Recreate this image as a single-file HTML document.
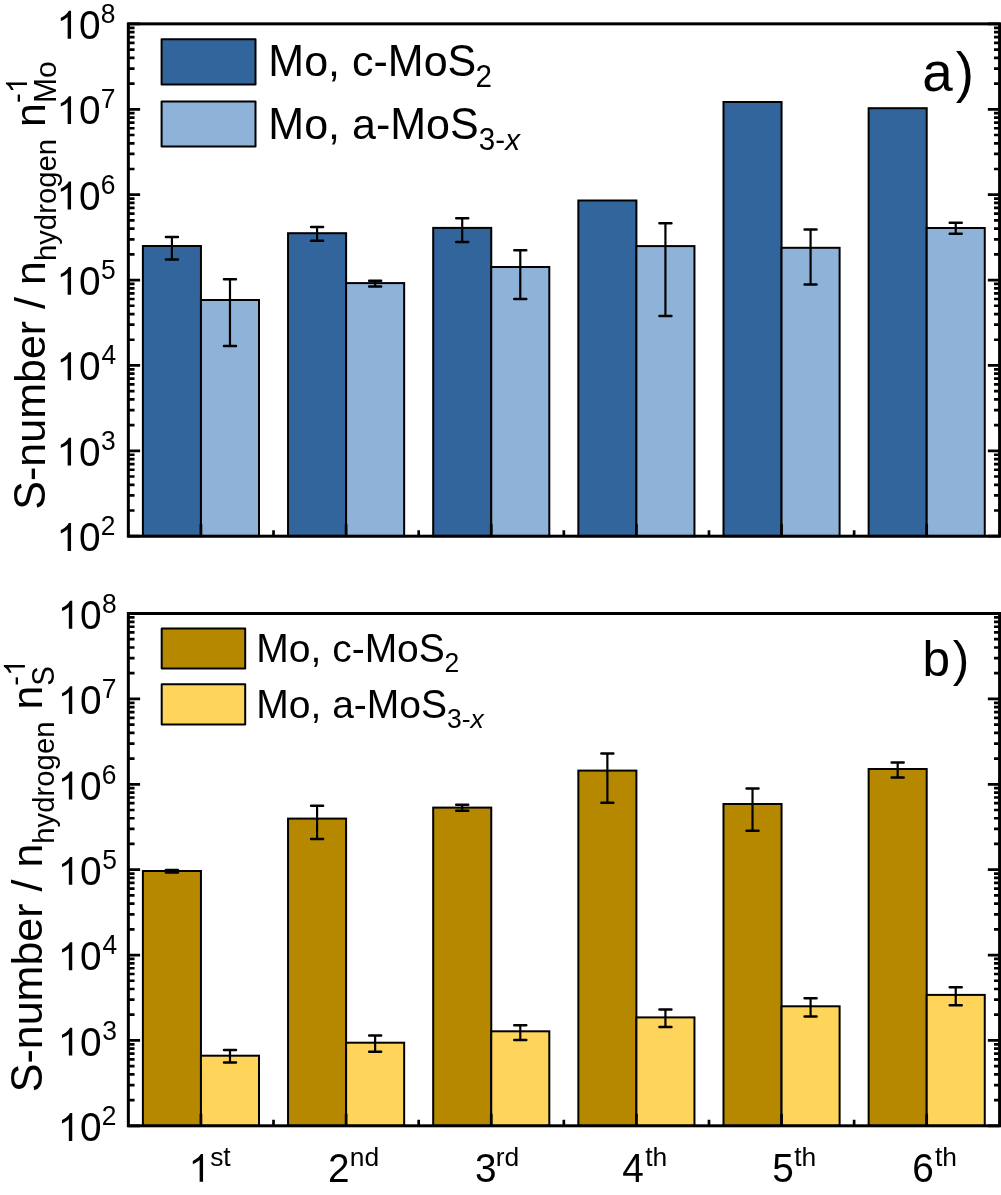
<!DOCTYPE html><html><head><meta charset="utf-8"><style>html,body{margin:0;padding:0;background:#fff;width:1001px;height:1195px;overflow:hidden}svg{display:block;will-change:transform}</style></head><body>
<svg width="1001" height="1195" viewBox="0 0 1001 1195">
<rect width="1001" height="1195" fill="#fff"/>
<rect x="142.89" y="246.00" width="58.06" height="290.20" fill="#32659b" stroke="#000" stroke-width="2"/>
<rect x="200.95" y="300.00" width="58.06" height="236.20" fill="#8fb3d8" stroke="#000" stroke-width="2"/>
<rect x="288.04" y="233.20" width="58.06" height="303.00" fill="#32659b" stroke="#000" stroke-width="2"/>
<rect x="346.10" y="283.10" width="58.06" height="253.10" fill="#8fb3d8" stroke="#000" stroke-width="2"/>
<rect x="433.19" y="227.90" width="58.06" height="308.30" fill="#32659b" stroke="#000" stroke-width="2"/>
<rect x="491.25" y="267.00" width="58.06" height="269.20" fill="#8fb3d8" stroke="#000" stroke-width="2"/>
<rect x="578.34" y="200.50" width="58.06" height="335.70" fill="#32659b" stroke="#000" stroke-width="2"/>
<rect x="636.40" y="246.10" width="58.06" height="290.10" fill="#8fb3d8" stroke="#000" stroke-width="2"/>
<rect x="723.49" y="102.00" width="58.06" height="434.20" fill="#32659b" stroke="#000" stroke-width="2"/>
<rect x="781.55" y="247.80" width="58.06" height="288.40" fill="#8fb3d8" stroke="#000" stroke-width="2"/>
<rect x="868.64" y="108.20" width="58.06" height="428.00" fill="#32659b" stroke="#000" stroke-width="2"/>
<rect x="926.70" y="228.00" width="58.06" height="308.20" fill="#8fb3d8" stroke="#000" stroke-width="2"/>
<path d="M171.92 236.90V259.50" stroke="#000" stroke-width="2.2" fill="none"/>
<path d="M165.92 236.90H177.92M165.92 259.50H177.92" stroke="#000" stroke-width="2.5" stroke-linecap="round" fill="none"/>
<path d="M229.98 279.30V346.10" stroke="#000" stroke-width="2.2" fill="none"/>
<path d="M223.98 279.30H235.98M223.98 346.10H235.98" stroke="#000" stroke-width="2.5" stroke-linecap="round" fill="none"/>
<path d="M317.07 227.10V240.70" stroke="#000" stroke-width="2.2" fill="none"/>
<path d="M311.07 227.10H323.07M311.07 240.70H323.07" stroke="#000" stroke-width="2.5" stroke-linecap="round" fill="none"/>
<path d="M375.13 280.80V286.60" stroke="#000" stroke-width="2.2" fill="none"/>
<path d="M369.13 280.80H381.13M369.13 286.60H381.13" stroke="#000" stroke-width="2.5" stroke-linecap="round" fill="none"/>
<path d="M462.22 218.20V242.10" stroke="#000" stroke-width="2.2" fill="none"/>
<path d="M456.22 218.20H468.22M456.22 242.10H468.22" stroke="#000" stroke-width="2.5" stroke-linecap="round" fill="none"/>
<path d="M520.28 250.20V299.10" stroke="#000" stroke-width="2.2" fill="none"/>
<path d="M514.28 250.20H526.28M514.28 299.10H526.28" stroke="#000" stroke-width="2.5" stroke-linecap="round" fill="none"/>
<path d="M665.43 223.20V315.90" stroke="#000" stroke-width="2.2" fill="none"/>
<path d="M659.43 223.20H671.43M659.43 315.90H671.43" stroke="#000" stroke-width="2.5" stroke-linecap="round" fill="none"/>
<path d="M810.58 229.40V284.60" stroke="#000" stroke-width="2.2" fill="none"/>
<path d="M804.58 229.40H816.58M804.58 284.60H816.58" stroke="#000" stroke-width="2.5" stroke-linecap="round" fill="none"/>
<path d="M955.73 222.70V233.70" stroke="#000" stroke-width="2.2" fill="none"/>
<path d="M949.73 222.70H961.73M949.73 233.70H961.73" stroke="#000" stroke-width="2.5" stroke-linecap="round" fill="none"/>
<path d="M128.35 536.20H140.10M999.60 536.20H987.85M128.35 510.50H134.55M999.60 510.50H994.00M128.35 495.46H134.55M999.60 495.46H994.00M128.35 484.80H134.55M999.60 484.80H994.00M128.35 476.52H134.55M999.60 476.52H994.00M128.35 469.76H134.55M999.60 469.76H994.00M128.35 464.05H134.55M999.60 464.05H994.00M128.35 459.09H134.55M999.60 459.09H994.00M128.35 454.73H134.55M999.60 454.73H994.00M128.35 450.82H140.10M999.60 450.82H987.85M128.35 425.12H134.55M999.60 425.12H994.00M128.35 410.08H134.55M999.60 410.08H994.00M128.35 399.42H134.55M999.60 399.42H994.00M128.35 391.14H134.55M999.60 391.14H994.00M128.35 384.38H134.55M999.60 384.38H994.00M128.35 378.67H134.55M999.60 378.67H994.00M128.35 373.71H134.55M999.60 373.71H994.00M128.35 369.35H134.55M999.60 369.35H994.00M128.35 365.44H140.10M999.60 365.44H987.85M128.35 339.74H134.55M999.60 339.74H994.00M128.35 324.70H134.55M999.60 324.70H994.00M128.35 314.04H134.55M999.60 314.04H994.00M128.35 305.76H134.55M999.60 305.76H994.00M128.35 299.00H134.55M999.60 299.00H994.00M128.35 293.29H134.55M999.60 293.29H994.00M128.35 288.33H134.55M999.60 288.33H994.00M128.35 283.97H134.55M999.60 283.97H994.00M128.35 280.06H140.10M999.60 280.06H987.85M128.35 254.36H134.55M999.60 254.36H994.00M128.35 239.32H134.55M999.60 239.32H994.00M128.35 228.66H134.55M999.60 228.66H994.00M128.35 220.38H134.55M999.60 220.38H994.00M128.35 213.62H134.55M999.60 213.62H994.00M128.35 207.91H134.55M999.60 207.91H994.00M128.35 202.95H134.55M999.60 202.95H994.00M128.35 198.59H134.55M999.60 198.59H994.00M128.35 194.68H140.10M999.60 194.68H987.85M128.35 168.98H134.55M999.60 168.98H994.00M128.35 153.94H134.55M999.60 153.94H994.00M128.35 143.28H134.55M999.60 143.28H994.00M128.35 135.00H134.55M999.60 135.00H994.00M128.35 128.24H134.55M999.60 128.24H994.00M128.35 122.53H134.55M999.60 122.53H994.00M128.35 117.57H134.55M999.60 117.57H994.00M128.35 113.21H134.55M999.60 113.21H994.00M128.35 109.30H140.10M999.60 109.30H987.85M128.35 83.60H134.55M999.60 83.60H994.00M128.35 68.56H134.55M999.60 68.56H994.00M128.35 57.90H134.55M999.60 57.90H994.00M128.35 49.62H134.55M999.60 49.62H994.00M128.35 42.86H134.55M999.60 42.86H994.00M128.35 37.15H134.55M999.60 37.15H994.00M128.35 32.19H134.55M999.60 32.19H994.00M128.35 27.83H134.55M999.60 27.83H994.00M128.35 23.85H140.10M999.60 23.85H987.85" stroke="#000" stroke-width="2.7" fill="none"/>
<path d="M200.95 536.20V524.20M273.52 536.20V530.20M346.10 536.20V524.20M418.68 536.20V530.20M491.25 536.20V524.20M563.83 536.20V530.20M636.40 536.20V524.20M708.98 536.20V530.20M781.55 536.20V524.20M854.12 536.20V530.20M926.70 536.20V524.20" stroke="#000" stroke-width="2.7" fill="none"/>
<rect x="128.35" y="23.85" width="871.25" height="512.35" fill="none" stroke="#000" stroke-width="3"/>
<path d="M763 0H583V1147Q518 1085 465 1054Q412 1023 359 992Q306 961 222 930V1104Q373 1175 429.5 1225.5Q486 1276 542.5 1326.5Q599 1377 646 1472H763Z" transform="translate(56.59,551.00) scale(0.01895,-0.01895)" fill="#000"/>
<text font-family="Liberation Sans" font-size="38.8" transform="translate(78.88,551.20) scale(1,1.04)" xml:space="preserve">0</text>
<text font-family="Liberation Sans" font-size="26.4" transform="translate(100.67,535.20) scale(1,1.04)" xml:space="preserve">2</text>
<path d="M763 0H583V1147Q518 1085 465 1054Q412 1023 359 992Q306 961 222 930V1104Q373 1175 429.5 1225.5Q486 1276 542.5 1326.5Q599 1377 646 1472H763Z" transform="translate(56.59,465.62) scale(0.01895,-0.01895)" fill="#000"/>
<text font-family="Liberation Sans" font-size="38.8" transform="translate(78.88,465.82) scale(1,1.04)" xml:space="preserve">0</text>
<text font-family="Liberation Sans" font-size="26.4" transform="translate(100.99,449.82) scale(1,1.04)" xml:space="preserve">3</text>
<path d="M763 0H583V1147Q518 1085 465 1054Q412 1023 359 992Q306 961 222 930V1104Q373 1175 429.5 1225.5Q486 1276 542.5 1326.5Q599 1377 646 1472H763Z" transform="translate(56.59,380.24) scale(0.01895,-0.01895)" fill="#000"/>
<text font-family="Liberation Sans" font-size="38.8" transform="translate(78.88,380.44) scale(1,1.04)" xml:space="preserve">0</text>
<text font-family="Liberation Sans" font-size="26.4" transform="translate(101.39,364.44) scale(1,1.04)" xml:space="preserve">4</text>
<path d="M763 0H583V1147Q518 1085 465 1054Q412 1023 359 992Q306 961 222 930V1104Q373 1175 429.5 1225.5Q486 1276 542.5 1326.5Q599 1377 646 1472H763Z" transform="translate(56.59,294.86) scale(0.01895,-0.01895)" fill="#000"/>
<text font-family="Liberation Sans" font-size="38.8" transform="translate(78.88,295.06) scale(1,1.04)" xml:space="preserve">0</text>
<text font-family="Liberation Sans" font-size="26.4" transform="translate(100.94,279.06) scale(1,1.04)" xml:space="preserve">5</text>
<path d="M763 0H583V1147Q518 1085 465 1054Q412 1023 359 992Q306 961 222 930V1104Q373 1175 429.5 1225.5Q486 1276 542.5 1326.5Q599 1377 646 1472H763Z" transform="translate(56.59,209.48) scale(0.01895,-0.01895)" fill="#000"/>
<text font-family="Liberation Sans" font-size="38.8" transform="translate(78.88,209.68) scale(1,1.04)" xml:space="preserve">0</text>
<text font-family="Liberation Sans" font-size="26.4" transform="translate(100.66,193.68) scale(1,1.04)" xml:space="preserve">6</text>
<path d="M763 0H583V1147Q518 1085 465 1054Q412 1023 359 992Q306 961 222 930V1104Q373 1175 429.5 1225.5Q486 1276 542.5 1326.5Q599 1377 646 1472H763Z" transform="translate(56.59,124.10) scale(0.01895,-0.01895)" fill="#000"/>
<text font-family="Liberation Sans" font-size="38.8" transform="translate(78.88,124.30) scale(1,1.04)" xml:space="preserve">0</text>
<text font-family="Liberation Sans" font-size="26.4" transform="translate(100.65,108.30) scale(1,1.04)" xml:space="preserve">7</text>
<path d="M763 0H583V1147Q518 1085 465 1054Q412 1023 359 992Q306 961 222 930V1104Q373 1175 429.5 1225.5Q486 1276 542.5 1326.5Q599 1377 646 1472H763Z" transform="translate(56.59,38.72) scale(0.01895,-0.01895)" fill="#000"/>
<text font-family="Liberation Sans" font-size="38.8" transform="translate(78.88,38.92) scale(1,1.04)" xml:space="preserve">0</text>
<text font-family="Liberation Sans" font-size="26.4" transform="translate(100.85,22.92) scale(1,1.04)" xml:space="preserve">8</text>
<rect x="142.89" y="871.00" width="58.06" height="254.80" fill="#b58800" stroke="#000" stroke-width="2"/>
<rect x="200.95" y="1055.70" width="58.06" height="70.10" fill="#ffd45b" stroke="#000" stroke-width="2"/>
<rect x="288.04" y="818.60" width="58.06" height="307.20" fill="#b58800" stroke="#000" stroke-width="2"/>
<rect x="346.10" y="1042.70" width="58.06" height="83.10" fill="#ffd45b" stroke="#000" stroke-width="2"/>
<rect x="433.19" y="807.60" width="58.06" height="318.20" fill="#b58800" stroke="#000" stroke-width="2"/>
<rect x="491.25" y="1031.30" width="58.06" height="94.50" fill="#ffd45b" stroke="#000" stroke-width="2"/>
<rect x="578.34" y="770.60" width="58.06" height="355.20" fill="#b58800" stroke="#000" stroke-width="2"/>
<rect x="636.40" y="1017.40" width="58.06" height="108.40" fill="#ffd45b" stroke="#000" stroke-width="2"/>
<rect x="723.49" y="804.00" width="58.06" height="321.80" fill="#b58800" stroke="#000" stroke-width="2"/>
<rect x="781.55" y="1006.30" width="58.06" height="119.50" fill="#ffd45b" stroke="#000" stroke-width="2"/>
<rect x="868.64" y="769.00" width="58.06" height="356.80" fill="#b58800" stroke="#000" stroke-width="2"/>
<rect x="926.70" y="994.90" width="58.06" height="130.90" fill="#ffd45b" stroke="#000" stroke-width="2"/>
<path d="M171.92 869.90V872.60" stroke="#000" stroke-width="2.2" fill="none"/>
<path d="M165.92 869.90H177.92M165.92 872.60H177.92" stroke="#000" stroke-width="2.5" stroke-linecap="round" fill="none"/>
<path d="M229.98 1049.90V1062.40" stroke="#000" stroke-width="2.2" fill="none"/>
<path d="M223.98 1049.90H235.98M223.98 1062.40H235.98" stroke="#000" stroke-width="2.5" stroke-linecap="round" fill="none"/>
<path d="M317.07 805.80V839.00" stroke="#000" stroke-width="2.2" fill="none"/>
<path d="M311.07 805.80H323.07M311.07 839.00H323.07" stroke="#000" stroke-width="2.5" stroke-linecap="round" fill="none"/>
<path d="M375.13 1035.50V1051.70" stroke="#000" stroke-width="2.2" fill="none"/>
<path d="M369.13 1035.50H381.13M369.13 1051.70H381.13" stroke="#000" stroke-width="2.5" stroke-linecap="round" fill="none"/>
<path d="M462.22 804.70V810.70" stroke="#000" stroke-width="2.2" fill="none"/>
<path d="M456.22 804.70H468.22M456.22 810.70H468.22" stroke="#000" stroke-width="2.5" stroke-linecap="round" fill="none"/>
<path d="M520.28 1025.20V1039.90" stroke="#000" stroke-width="2.2" fill="none"/>
<path d="M514.28 1025.20H526.28M514.28 1039.90H526.28" stroke="#000" stroke-width="2.5" stroke-linecap="round" fill="none"/>
<path d="M607.37 753.50V802.70" stroke="#000" stroke-width="2.2" fill="none"/>
<path d="M601.37 753.50H613.37M601.37 802.70H613.37" stroke="#000" stroke-width="2.5" stroke-linecap="round" fill="none"/>
<path d="M665.43 1009.60V1027.10" stroke="#000" stroke-width="2.2" fill="none"/>
<path d="M659.43 1009.60H671.43M659.43 1027.10H671.43" stroke="#000" stroke-width="2.5" stroke-linecap="round" fill="none"/>
<path d="M752.52 788.40V830.70" stroke="#000" stroke-width="2.2" fill="none"/>
<path d="M746.52 788.40H758.52M746.52 830.70H758.52" stroke="#000" stroke-width="2.5" stroke-linecap="round" fill="none"/>
<path d="M810.58 998.20V1016.40" stroke="#000" stroke-width="2.2" fill="none"/>
<path d="M804.58 998.20H816.58M804.58 1016.40H816.58" stroke="#000" stroke-width="2.5" stroke-linecap="round" fill="none"/>
<path d="M897.67 762.50V777.50" stroke="#000" stroke-width="2.2" fill="none"/>
<path d="M891.67 762.50H903.67M891.67 777.50H903.67" stroke="#000" stroke-width="2.5" stroke-linecap="round" fill="none"/>
<path d="M955.73 987.30V1005.30" stroke="#000" stroke-width="2.2" fill="none"/>
<path d="M949.73 987.30H961.73M949.73 1005.30H961.73" stroke="#000" stroke-width="2.5" stroke-linecap="round" fill="none"/>
<path d="M128.35 1125.80H140.10M999.60 1125.80H987.85M128.35 1100.10H134.55M999.60 1100.10H994.00M128.35 1085.06H134.55M999.60 1085.06H994.00M128.35 1074.40H134.55M999.60 1074.40H994.00M128.35 1066.12H134.55M999.60 1066.12H994.00M128.35 1059.36H134.55M999.60 1059.36H994.00M128.35 1053.65H134.55M999.60 1053.65H994.00M128.35 1048.69H134.55M999.60 1048.69H994.00M128.35 1044.33H134.55M999.60 1044.33H994.00M128.35 1040.42H140.10M999.60 1040.42H987.85M128.35 1014.72H134.55M999.60 1014.72H994.00M128.35 999.68H134.55M999.60 999.68H994.00M128.35 989.02H134.55M999.60 989.02H994.00M128.35 980.74H134.55M999.60 980.74H994.00M128.35 973.98H134.55M999.60 973.98H994.00M128.35 968.27H134.55M999.60 968.27H994.00M128.35 963.31H134.55M999.60 963.31H994.00M128.35 958.95H134.55M999.60 958.95H994.00M128.35 955.04H140.10M999.60 955.04H987.85M128.35 929.34H134.55M999.60 929.34H994.00M128.35 914.30H134.55M999.60 914.30H994.00M128.35 903.64H134.55M999.60 903.64H994.00M128.35 895.36H134.55M999.60 895.36H994.00M128.35 888.60H134.55M999.60 888.60H994.00M128.35 882.89H134.55M999.60 882.89H994.00M128.35 877.93H134.55M999.60 877.93H994.00M128.35 873.57H134.55M999.60 873.57H994.00M128.35 869.66H140.10M999.60 869.66H987.85M128.35 843.96H134.55M999.60 843.96H994.00M128.35 828.92H134.55M999.60 828.92H994.00M128.35 818.26H134.55M999.60 818.26H994.00M128.35 809.98H134.55M999.60 809.98H994.00M128.35 803.22H134.55M999.60 803.22H994.00M128.35 797.51H134.55M999.60 797.51H994.00M128.35 792.55H134.55M999.60 792.55H994.00M128.35 788.19H134.55M999.60 788.19H994.00M128.35 784.28H140.10M999.60 784.28H987.85M128.35 758.58H134.55M999.60 758.58H994.00M128.35 743.54H134.55M999.60 743.54H994.00M128.35 732.88H134.55M999.60 732.88H994.00M128.35 724.60H134.55M999.60 724.60H994.00M128.35 717.84H134.55M999.60 717.84H994.00M128.35 712.13H134.55M999.60 712.13H994.00M128.35 707.17H134.55M999.60 707.17H994.00M128.35 702.81H134.55M999.60 702.81H994.00M128.35 698.90H140.10M999.60 698.90H987.85M128.35 673.20H134.55M999.60 673.20H994.00M128.35 658.16H134.55M999.60 658.16H994.00M128.35 647.50H134.55M999.60 647.50H994.00M128.35 639.22H134.55M999.60 639.22H994.00M128.35 632.46H134.55M999.60 632.46H994.00M128.35 626.75H134.55M999.60 626.75H994.00M128.35 621.79H134.55M999.60 621.79H994.00M128.35 617.43H134.55M999.60 617.43H994.00M128.35 613.50H140.10M999.60 613.50H987.85" stroke="#000" stroke-width="2.7" fill="none"/>
<path d="M200.95 1125.80V1113.80M273.52 1125.80V1119.80M346.10 1125.80V1113.80M418.68 1125.80V1119.80M491.25 1125.80V1113.80M563.83 1125.80V1119.80M636.40 1125.80V1113.80M708.98 1125.80V1119.80M781.55 1125.80V1113.80M854.12 1125.80V1119.80M926.70 1125.80V1113.80" stroke="#000" stroke-width="2.7" fill="none"/>
<rect x="128.35" y="613.50" width="871.25" height="512.30" fill="none" stroke="#000" stroke-width="3"/>
<path d="M763 0H583V1147Q518 1085 465 1054Q412 1023 359 992Q306 961 222 930V1104Q373 1175 429.5 1225.5Q486 1276 542.5 1326.5Q599 1377 646 1472H763Z" transform="translate(57.79,1141.00) scale(0.01895,-0.01895)" fill="#000"/>
<text font-family="Liberation Sans" font-size="38.8" transform="translate(80.08,1141.20) scale(1,1.04)" xml:space="preserve">0</text>
<text font-family="Liberation Sans" font-size="26.4" transform="translate(101.87,1125.20) scale(1,1.04)" xml:space="preserve">2</text>
<path d="M763 0H583V1147Q518 1085 465 1054Q412 1023 359 992Q306 961 222 930V1104Q373 1175 429.5 1225.5Q486 1276 542.5 1326.5Q599 1377 646 1472H763Z" transform="translate(57.79,1055.62) scale(0.01895,-0.01895)" fill="#000"/>
<text font-family="Liberation Sans" font-size="38.8" transform="translate(80.08,1055.82) scale(1,1.04)" xml:space="preserve">0</text>
<text font-family="Liberation Sans" font-size="26.4" transform="translate(102.19,1039.82) scale(1,1.04)" xml:space="preserve">3</text>
<path d="M763 0H583V1147Q518 1085 465 1054Q412 1023 359 992Q306 961 222 930V1104Q373 1175 429.5 1225.5Q486 1276 542.5 1326.5Q599 1377 646 1472H763Z" transform="translate(57.79,970.24) scale(0.01895,-0.01895)" fill="#000"/>
<text font-family="Liberation Sans" font-size="38.8" transform="translate(80.08,970.44) scale(1,1.04)" xml:space="preserve">0</text>
<text font-family="Liberation Sans" font-size="26.4" transform="translate(102.59,954.44) scale(1,1.04)" xml:space="preserve">4</text>
<path d="M763 0H583V1147Q518 1085 465 1054Q412 1023 359 992Q306 961 222 930V1104Q373 1175 429.5 1225.5Q486 1276 542.5 1326.5Q599 1377 646 1472H763Z" transform="translate(57.79,884.86) scale(0.01895,-0.01895)" fill="#000"/>
<text font-family="Liberation Sans" font-size="38.8" transform="translate(80.08,885.06) scale(1,1.04)" xml:space="preserve">0</text>
<text font-family="Liberation Sans" font-size="26.4" transform="translate(102.14,869.06) scale(1,1.04)" xml:space="preserve">5</text>
<path d="M763 0H583V1147Q518 1085 465 1054Q412 1023 359 992Q306 961 222 930V1104Q373 1175 429.5 1225.5Q486 1276 542.5 1326.5Q599 1377 646 1472H763Z" transform="translate(57.79,799.48) scale(0.01895,-0.01895)" fill="#000"/>
<text font-family="Liberation Sans" font-size="38.8" transform="translate(80.08,799.68) scale(1,1.04)" xml:space="preserve">0</text>
<text font-family="Liberation Sans" font-size="26.4" transform="translate(101.86,783.68) scale(1,1.04)" xml:space="preserve">6</text>
<path d="M763 0H583V1147Q518 1085 465 1054Q412 1023 359 992Q306 961 222 930V1104Q373 1175 429.5 1225.5Q486 1276 542.5 1326.5Q599 1377 646 1472H763Z" transform="translate(57.79,714.10) scale(0.01895,-0.01895)" fill="#000"/>
<text font-family="Liberation Sans" font-size="38.8" transform="translate(80.08,714.30) scale(1,1.04)" xml:space="preserve">0</text>
<text font-family="Liberation Sans" font-size="26.4" transform="translate(101.85,698.30) scale(1,1.04)" xml:space="preserve">7</text>
<path d="M763 0H583V1147Q518 1085 465 1054Q412 1023 359 992Q306 961 222 930V1104Q373 1175 429.5 1225.5Q486 1276 542.5 1326.5Q599 1377 646 1472H763Z" transform="translate(57.79,628.72) scale(0.01895,-0.01895)" fill="#000"/>
<text font-family="Liberation Sans" font-size="38.8" transform="translate(80.08,628.92) scale(1,1.04)" xml:space="preserve">0</text>
<text font-family="Liberation Sans" font-size="26.4" transform="translate(102.05,612.92) scale(1,1.04)" xml:space="preserve">8</text>
<rect x="161.60" y="39.20" width="93.90" height="45.20" fill="#32659b" stroke="#000" stroke-width="2" stroke-linejoin="round"/>
<rect x="161.60" y="101.50" width="93.90" height="45.00" fill="#8fb3d8" stroke="#000" stroke-width="2" stroke-linejoin="round"/>
<text font-family="Liberation Sans" font-size="43.0" transform="translate(268.37,76.10) scale(1,1.04)" xml:space="preserve">M</text>
<text font-family="Liberation Sans" font-size="43.0" transform="translate(304.19,76.10)" xml:space="preserve">o, c-</text>
<text font-family="Liberation Sans" font-size="43.0" transform="translate(387.82,76.10) scale(1,1.04)" xml:space="preserve">M</text>
<text font-family="Liberation Sans" font-size="43.0" transform="translate(423.64,76.10)" xml:space="preserve">o</text>
<text font-family="Liberation Sans" font-size="43.0" transform="translate(447.55,76.10) scale(1,1.04)" xml:space="preserve">S</text>
<text font-family="Liberation Sans" font-size="29.6" transform="translate(475.41,87.40) scale(1,1.04)" xml:space="preserve">2</text>
<text font-family="Liberation Sans" font-size="43.0" transform="translate(268.37,139.00) scale(1,1.04)" xml:space="preserve">M</text>
<text font-family="Liberation Sans" font-size="43.0" transform="translate(304.19,139.00)" xml:space="preserve">o, a-</text>
<text font-family="Liberation Sans" font-size="43.0" transform="translate(390.23,139.00) scale(1,1.04)" xml:space="preserve">M</text>
<text font-family="Liberation Sans" font-size="43.0" transform="translate(426.05,139.00)" xml:space="preserve">o</text>
<text font-family="Liberation Sans" font-size="43.0" transform="translate(449.97,139.00) scale(1,1.04)" xml:space="preserve">S</text>
<text font-family="Liberation Sans" font-size="29.6" transform="translate(478.87,150.30) scale(1,1.04)" xml:space="preserve">3</text>
<text font-family="Liberation Sans" font-size="29.6" transform="translate(495.33,150.30)" xml:space="preserve">-</text>
<text font-family="Liberation Sans" font-size="29.6" font-style="italic" transform="translate(505.19,150.30)" xml:space="preserve">x</text>
<rect x="161.70" y="628.50" width="83.50" height="40.00" fill="#b58800" stroke="#000" stroke-width="2" stroke-linejoin="round"/>
<rect x="161.70" y="684.20" width="83.50" height="40.30" fill="#ffd45b" stroke="#000" stroke-width="2" stroke-linejoin="round"/>
<text font-family="Liberation Sans" font-size="39.0" transform="translate(256.30,662.00) scale(1,1.04)" xml:space="preserve">M</text>
<text font-family="Liberation Sans" font-size="39.0" transform="translate(288.79,662.00)" xml:space="preserve">o, c-</text>
<text font-family="Liberation Sans" font-size="39.0" transform="translate(364.64,662.00) scale(1,1.04)" xml:space="preserve">M</text>
<text font-family="Liberation Sans" font-size="39.0" transform="translate(397.12,662.00)" xml:space="preserve">o</text>
<text font-family="Liberation Sans" font-size="39.0" transform="translate(418.81,662.00) scale(1,1.04)" xml:space="preserve">S</text>
<text font-family="Liberation Sans" font-size="26.5" transform="translate(444.57,672.00) scale(1,1.04)" xml:space="preserve">2</text>
<text font-family="Liberation Sans" font-size="39.0" transform="translate(256.30,718.20) scale(1,1.04)" xml:space="preserve">M</text>
<text font-family="Liberation Sans" font-size="39.0" transform="translate(288.79,718.20)" xml:space="preserve">o, a-</text>
<text font-family="Liberation Sans" font-size="39.0" transform="translate(366.83,718.20) scale(1,1.04)" xml:space="preserve">M</text>
<text font-family="Liberation Sans" font-size="39.0" transform="translate(399.31,718.20)" xml:space="preserve">o</text>
<text font-family="Liberation Sans" font-size="39.0" transform="translate(421.00,718.20) scale(1,1.04)" xml:space="preserve">S</text>
<text font-family="Liberation Sans" font-size="26.5" transform="translate(446.99,728.20) scale(1,1.04)" xml:space="preserve">3</text>
<text font-family="Liberation Sans" font-size="26.5" transform="translate(461.73,728.20)" xml:space="preserve">-</text>
<text font-family="Liberation Sans" font-size="26.5" font-style="italic" transform="translate(470.55,728.20)" xml:space="preserve">x</text>
<text font-family="Liberation Sans" font-size="54.8" transform="translate(922.17,91.00)" xml:space="preserve">a</text>
<text font-family="Liberation Sans" font-size="54.8" transform="translate(955.68,91.00)" xml:space="preserve">)</text>
<text font-family="Liberation Sans" font-size="49.5" transform="translate(922.61,675.80)" xml:space="preserve">b</text>
<text font-family="Liberation Sans" font-size="49.5" transform="translate(952.71,675.80)" xml:space="preserve">)</text>
<path d="M763 0H583V1147Q518 1085 465 1054Q412 1023 359 992Q306 961 222 930V1104Q373 1175 429.5 1225.5Q486 1276 542.5 1326.5Q599 1377 646 1472H763Z" transform="translate(188.59,1181.80) scale(0.01895,-0.01895)" fill="#000"/>
<text font-family="Liberation Sans" font-size="26.4" transform="translate(210.17,1166.00)" xml:space="preserve">s</text>
<text font-family="Liberation Sans" font-size="26.4" transform="translate(223.37,1166.00) scale(1,1.05)" xml:space="preserve">t</text>
<text font-family="Liberation Sans" font-size="38.8" transform="translate(328.05,1181.80) scale(1,1.04)" xml:space="preserve">2</text>
<text font-family="Liberation Sans" font-size="26.4" transform="translate(349.85,1166.00)" xml:space="preserve">nd</text>
<text font-family="Liberation Sans" font-size="38.8" transform="translate(475.12,1181.80) scale(1,1.04)" xml:space="preserve">3</text>
<text font-family="Liberation Sans" font-size="26.4" transform="translate(495.65,1166.00)" xml:space="preserve">rd</text>
<text font-family="Liberation Sans" font-size="38.8" transform="translate(622.31,1181.80) scale(1,1.04)" xml:space="preserve">4</text>
<text font-family="Liberation Sans" font-size="26.4" transform="translate(645.20,1166.00) scale(1,1.05)" xml:space="preserve">t</text>
<text font-family="Liberation Sans" font-size="26.4" transform="translate(652.54,1166.00)" xml:space="preserve">h</text>
<text font-family="Liberation Sans" font-size="38.8" transform="translate(772.25,1181.80) scale(1,1.04)" xml:space="preserve">5</text>
<text font-family="Liberation Sans" font-size="26.4" transform="translate(794.20,1166.00) scale(1,1.05)" xml:space="preserve">t</text>
<text font-family="Liberation Sans" font-size="26.4" transform="translate(801.54,1166.00)" xml:space="preserve">h</text>
<text font-family="Liberation Sans" font-size="38.8" transform="translate(912.23,1181.80) scale(1,1.04)" xml:space="preserve">6</text>
<text font-family="Liberation Sans" font-size="26.4" transform="translate(935.00,1166.00) scale(1,1.05)" xml:space="preserve">t</text>
<text font-family="Liberation Sans" font-size="26.4" transform="translate(942.34,1166.00)" xml:space="preserve">h</text>
<g transform="translate(45.00,507.70) rotate(-90)">
<text font-family="Liberation Sans" font-size="43.0" transform="translate(-1.95,0.00) scale(1,1.04)" xml:space="preserve">S</text>
<text font-family="Liberation Sans" font-size="43.0" transform="translate(26.73,0.00)" xml:space="preserve">-number / n</text>
<text font-family="Liberation Sans" font-size="29.3" transform="translate(246.60,11.00)" xml:space="preserve">hydrogen</text>
<text font-family="Liberation Sans" font-size="43.0" transform="translate(368.78,0.00)" xml:space="preserve"> n</text>
<path d="M763 0H583V1147Q518 1085 465 1054Q412 1023 359 992Q306 961 222 930V1104Q373 1175 429.5 1225.5Q486 1276 542.5 1326.5Q599 1377 646 1472H763Z" transform="translate(414.40,-18.00) scale(0.01431,-0.01431)" fill="#000"/>
<text font-family="Liberation Sans" font-size="29.3" transform="translate(404.64,-18.00)" xml:space="preserve">-</text>
<text font-family="Liberation Sans" font-size="30.0325" transform="translate(404.64,11.00) scale(1,1.04)" xml:space="preserve">M</text>
<text font-family="Liberation Sans" font-size="30.0325" transform="translate(429.66,11.00)" xml:space="preserve">o</text>
</g>
<g transform="translate(41.90,1090.30) rotate(-90)">
<text font-family="Liberation Sans" font-size="43.0" transform="translate(-1.95,0.00) scale(1,1.04)" xml:space="preserve">S</text>
<text font-family="Liberation Sans" font-size="43.0" transform="translate(26.73,0.00)" xml:space="preserve">-number / n</text>
<text font-family="Liberation Sans" font-size="29.3" transform="translate(246.60,12.50)" xml:space="preserve">hydrogen</text>
<text font-family="Liberation Sans" font-size="43.0" transform="translate(368.78,0.00)" xml:space="preserve"> n</text>
<path d="M763 0H583V1147Q518 1085 465 1054Q412 1023 359 992Q306 961 222 930V1104Q373 1175 429.5 1225.5Q486 1276 542.5 1326.5Q599 1377 646 1472H763Z" transform="translate(414.40,-17.00) scale(0.01431,-0.01431)" fill="#000"/>
<text font-family="Liberation Sans" font-size="29.3" transform="translate(404.64,-17.00)" xml:space="preserve">-</text>
<text font-family="Liberation Sans" font-size="29.3" transform="translate(404.64,12.50) scale(1,1.04)" xml:space="preserve">S</text>
</g>
</svg></body></html>
